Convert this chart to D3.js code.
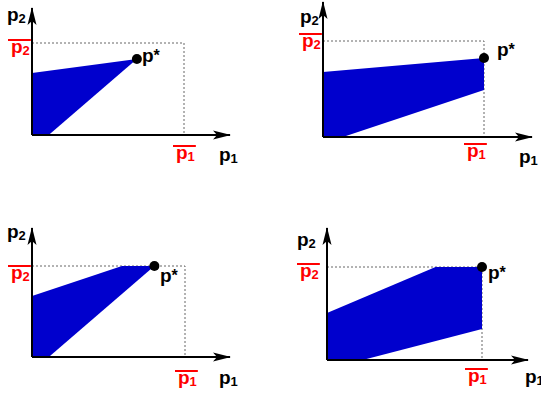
<!DOCTYPE html>
<html>
  <head>
    <meta charset="UTF-8" />
    <style>
      body { margin: 0; background: #fff; }
      text { font-family: "Liberation Sans", Arial, sans-serif; font-weight: bold; }
    </style>
  </head>
  <body>
    <svg></svg>
    <script src="https://d3js.org/d3.v7.min.js"></script>
    <script>
      let width = 541,
        height = 401;

      // feasible region vertices, in units of (p1bar, p2bar)
      const region1 = [[0, 0], [0, 0.674], [0.69, 0.826], [0.11, 0]];
      const region2 = [[0, 0], [0, 0.677], [1, 0.823], [1, 0.49], [0.124, 0]];
      const region3 = [[0, 0], [0, 0.67], [0.588, 1], [0.8, 1], [0.11, 0]];
      const region4 = [[0, 0], [0, 0.505], [0.7, 1], [1, 1], [1, 0.333], [0.23, 0]];
      const optima = [[0.69, 0.826], [1, 0.823], [0.8, 1], [1, 1]];
      const regions = [region1, region2, region3, region4];

      // panel layout: origin, p1bar/p2bar pixel positions, axis ends, label spots
      const panels = [
        { ox: 32, oy: 135, x1: 184, y2: 43, xt: 230, yt: 8,
          p2: [7, 21], p2b: [11, 53], p1b: [176, 159], p1: [219, 161], ps: [142, 62] },
        { ox: 323, oy: 137, x1: 484, y2: 41, xt: 532, yt: 2,
          p2: [300, 23], p2b: [302, 47], p1b: [467, 157], p1: [519, 163], ps: [497, 56] },
        { ox: 32, oy: 357, x1: 185, y2: 266, xt: 230, yt: 228,
          p2: [7, 238], p2b: [11, 279], p1b: [178, 384], p1: [219, 384], ps: [160, 282] },
        { ox: 327, oy: 360, x1: 482, y2: 267, xt: 528, yt: 228,
          p2: [297, 246], p2b: [300, 277], p1b: [468, 382], p1: [525, 383], ps: [488, 279] },
      ];

      let svg = d3.select("svg").attr("width", width).attr("height", height);

      svg.append("defs")
        .append("marker")
        .attr("id", "arrow")
        .attr("viewBox", "0 -5 18 10")
        .attr("refX", 17)
        .attr("refY", 0)
        .attr("markerWidth", 18)
        .attr("markerHeight", 10)
        .attr("markerUnits", "userSpaceOnUse")
        .attr("orient", "auto")
        .append("path")
        .attr("fill", "black")
        .attr("d", "M0,-4.5L18,0L0,4.5L4,0Z");

      function label(g, pos, sub, color, bar) {
        let t = g.append("text")
          .attr("x", pos[0])
          .attr("y", pos[1])
          .attr("fill", color)
          .style("font-size", "19px");
        t.append("tspan").text("p");
        t.append("tspan").attr("dy", 2).style("font-size", "13px").text(sub);
        if (bar) {
          let b = t.node().getBBox();
          g.append("line")
            .attr("x1", b.x - 3)
            .attr("x2", b.x + b.width + 1)
            .attr("y1", pos[1] - 13)
            .attr("y2", pos[1] - 13)
            .attr("stroke", color)
            .attr("stroke-width", 2);
        }
      }

      panels.forEach((p, i) => {
        let g = svg.append("g");
        let x = d3.scaleLinear().domain([0, 1]).range([p.ox, p.x1]);
        let y = d3.scaleLinear().domain([0, 1]).range([p.oy, p.y2]);

        // dashed bounds
        g.append("path")
          .attr("d", d3.line()([[x(0), y(1)], [x(1), y(1)], [x(1), y(0)]]))
          .attr("fill", "none")
          .attr("stroke", "#666")
          .attr("stroke-width", 1)
          .attr("stroke-dasharray", "2,2");

        g.append("path")
          .attr("d", d3.line().x((d) => x(d[0])).y((d) => y(d[1]))(regions[i]) + "Z")
          .attr("fill", "#0000cd");

        // axes
        g.append("line")
          .attr("x1", p.ox).attr("y1", p.oy).attr("x2", p.xt).attr("y2", p.oy)
          .attr("stroke", "black").attr("stroke-width", 2)
          .attr("marker-end", "url(#arrow)");
        g.append("line")
          .attr("x1", p.ox).attr("y1", p.oy).attr("x2", p.ox).attr("y2", p.yt)
          .attr("stroke", "black").attr("stroke-width", 2)
          .attr("marker-end", "url(#arrow)");

        g.append("circle")
          .attr("cx", x(optima[i][0]))
          .attr("cy", y(optima[i][1]))
          .attr("r", 5)
          .attr("fill", "black");

        let ps = g.append("text")
          .attr("x", p.ps[0]).attr("y", p.ps[1])
          .style("font-size", "19px");
        ps.append("tspan").text("p");
        ps.append("tspan").attr("dy", -1).style("font-size", "16px").text("*");

        label(g, p.p2, "2", "black", false);
        label(g, p.p2b, "2", "red", true);
        label(g, p.p1b, "1", "red", true);
        label(g, p.p1, "1", "black", false);
      });
    </script>
  </body>
</html>
